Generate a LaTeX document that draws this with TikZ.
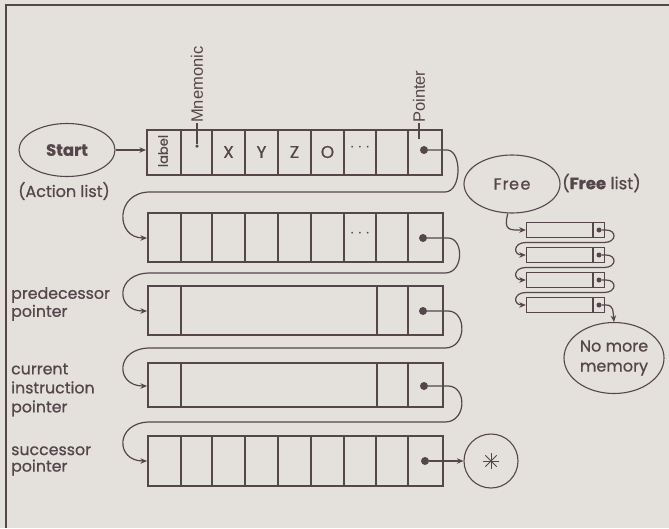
\documentclass[tikz,border=0pt]{standalone}
\usepackage{fontspec}
\setmainfont{Poppins}[FakeBold=0.7]
\newfontfamily\labfont{Liberation Sans}
\usetikzlibrary{shapes.geometric,arrows.meta}
\definecolor{bg}{RGB}{228,224,220}
\definecolor{ink}{RGB}{84,70,75}
\begin{document}
\begin{tikzpicture}[x=1pt,y=-1pt,
  every node/.style={text=ink,font=\fontsize{16}{18}\selectfont},
  rowbox/.style={draw=ink,line width=1.8pt,minimum width=295pt,inner sep=0pt,anchor=north west},
  cellline/.style={draw=ink,line width=1.5pt},
  dotn/.style={circle,fill=ink,inner sep=0pt,minimum size=8pt},
  sdot/.style={circle,fill=ink,inner sep=0pt,minimum size=5pt},
  conn/.style={draw=ink,line width=1.2pt,-{Stealth[length=6.5pt,width=5.5pt]}},
  plain/.style={draw=ink,line width=1.1pt},
  oval/.style={ellipse,draw=ink,line width=1.1pt,inner sep=0pt},
  freebox/.style={draw=ink,line width=1.4pt,minimum width=78pt,minimum height=15pt,inner sep=0pt},
  leftlab/.style={anchor=west,align=left,inner sep=0pt},
  vlab/.style={rotate=90,anchor=west,inner sep=0pt,font=\labfont\fontsize{16.5}{18}\selectfont}
]
\useasboundingbox (0,0) rectangle (669,528);
\fill[bg] (0,0) rectangle (669,528);
\draw[ink,line width=2pt] (6,528) -- (6,5) -- (669,5);

% rows
\node[rowbox,minimum height=45pt] (r1) at (146,129) {};
\node[rowbox,minimum height=49pt] (r2) at (147,212) {};
\node[rowbox,minimum height=49pt] (r3) at (147,285) {};
\node[rowbox,minimum height=44pt] (r4) at (147,362) {};
\node[rowbox,minimum height=50pt] (r5) at (147,435) {};

\foreach \x in {181,212,245,278,311,344,376,408}{
  \draw[cellline] (r1.north -| \x,0) -- (r1.south -| \x,0);
  \draw[cellline] (r2.north -| \x,0) -- (r2.south -| \x,0);
  \draw[cellline] (r5.north -| \x,0) -- (r5.south -| \x,0);
}
\foreach \x in {181,377,408}{
  \draw[cellline] (r3.north -| \x,0) -- (r3.south -| \x,0);
  \draw[cellline] (r4.north -| \x,0) -- (r4.south -| \x,0);
}

% row 1 contents
\node[rotate=90,inner sep=0pt,font=\fontsize{13}{14}\selectfont] (lbl) at (163,151) {label};
\node[font=\fontsize{17}{18}\selectfont] (cx) at (228.5,152) {X};
\node[font=\fontsize{17}{18}\selectfont] (cy) at (261.5,152) {Y};
\node[font=\fontsize{17}{18}\selectfont] (cz) at (294.5,152) {Z};
\node[font=\fontsize{17}{18}\selectfont] (co) at (327.5,152) {O};
\node (el1) at (360,148) {$\cdots$};
\node (el2) at (360,234) {$\cdots$};

% mnemonic and pointer labels
\node[circle,fill=ink,inner sep=0pt,minimum size=3.5pt] (md) at (197,146) {};
\coordinate (mtop) at (197,123);
\node[vlab] (mn) at (mtop) {Mnemonic};
\draw[plain] (mtop) -- (md);
\coordinate (ptop) at (419,123);
\node[vlab] (pt) at (ptop) {Pointer};
\coordinate (pbot) at (419,139);
\draw[plain] (ptop) -- (pbot);

% dots
\node[dotn] (d1) at (424,150) {};
\node[dotn] (d2) at (423,238) {};
\node[dotn] (d3) at (423,311) {};
\node[dotn] (d4) at (424,386) {};
\node[dotn] (d5) at (425,461) {};

% start
\node[oval,minimum width=96pt,minimum height=53pt,font=\bfseries\fontsize{16.5}{18}\selectfont] (start) at (67,150) {Start};
\node (act) at (64,191) {(Action list)};
\draw[conn] (start.east) -- (r1.west |- start.east);

% chain connectors
\draw[conn] (d1) -- (447,150) .. controls (462,150) and (462,192) .. (445,192) -- (150,192)
   .. controls (115,192) and (115,238) .. (r2.west |- d2);
\draw[conn] (d2) -- (448,238) .. controls (464,238) and (464,273) .. (445,273) -- (150,273)
   .. controls (115,273) and (115,311) .. (r3.west |- d3);
\draw[conn] (d3) -- (448,311) .. controls (467,311) and (467,348) .. (445,348) -- (150,348)
   .. controls (115,348) and (115,386) .. (r4.west |- d4);
\draw[conn] (d4) -- (448,386) .. controls (467,386) and (467,422) .. (445,422) -- (150,422)
   .. controls (115,422) and (115,461) .. (r5.west |- d5);

% end circle
\node[circle,draw=ink,line width=1.1pt,minimum size=54pt,inner sep=0pt] (endc) at (491,461) {};
\foreach \a in {0,45,90,135}
  \draw[ink,line width=0.9pt] (endc.center) ++(\a:8) -- ++(\a+180:16);
\draw[conn] (d5) -- (endc.west);

% free list
\node[oval,minimum width=96pt,minimum height=58pt] (free) at (512,184) {F\kern1pt r\kern0.5pt e\kern1.5pt e};
\node[anchor=west,inner sep=0pt,font=\fontsize{16.5}{18}\selectfont] (fl) at (562,183) {(\textbf{Free} list)};

\foreach \i/\y in {1/230,2/255,3/280,4/305}{
  \node[freebox] (f\i) at (565.5,\y) {};
  \draw[ink,line width=1.1pt] (f\i.north -| 593,0) -- (f\i.south -| 593,0);
  \node[sdot] (fd\i) at (599,\y) {};
}
\draw[conn] (free.262) .. controls (503,231) and (510,230) .. (f1.west);
\foreach \i/\j/\y in {1/2/230,2/3/255,3/4/280}{
  \draw[conn] (fd\i) -- (606,\y) .. controls (617,\y) and (617,\y+12.5) .. (604,\y+12.5) -- (526,\y+12.5)
     .. controls (513,\y+12.5) and (513,\y+25) .. (f\j.west);
}
\node[oval,minimum width=100pt,minimum height=71pt,align=center,font=\fontsize{16}{20}\selectfont] (nomem) at (614,358) {No more\\memory};
\draw[conn] (fd4) -- (606,305) .. controls (614,305) and (613,312) .. (nomem.north);

% left labels
\node[leftlab,font=\fontsize{15.8}{18}\selectfont] (pred) at (11,304) {predecessor\\pointer};
\node[leftlab,font=\fontsize{15.8}{19}\selectfont] (curr) at (11,390) {current\\instruction\\pointer};
\node[leftlab,font=\fontsize{15.8}{16.5}\selectfont] (succ) at (11,461) {successor\\pointer};
\end{tikzpicture}
\end{document}
